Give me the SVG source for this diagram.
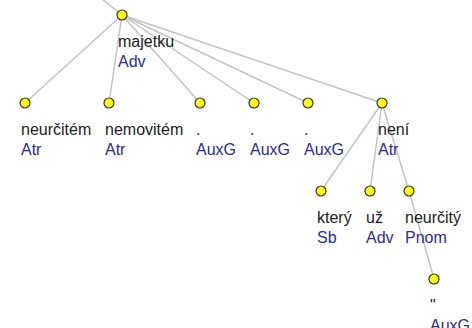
<svg xmlns="http://www.w3.org/2000/svg" width="472" height="328" viewBox="0 0 472 328">
<style>
.e{stroke:#c4c4c4;stroke-width:1.5;fill:none}
.n{fill:#ffff00;stroke:#333;stroke-width:1.2}
text{font-family:"Liberation Sans",Arial,sans-serif;font-size:16px}
.w{fill:#222}
.f{fill:#2a2aa0}
</style>
<rect width="472" height="328" fill="#fff"/>
<g id="edges">
<line class="e" x1="91" y1="-10" x2="122" y2="15"/>
<line class="e" x1="122" y1="15" x2="25" y2="103"/>
<line class="e" x1="122" y1="15" x2="109" y2="103"/>
<line class="e" x1="122" y1="15" x2="200" y2="103"/>
<line class="e" x1="122" y1="15" x2="254" y2="103"/>
<line class="e" x1="122" y1="15" x2="308" y2="103"/>
<line class="e" x1="122" y1="15" x2="382" y2="103"/>
<line class="e" x1="382" y1="103" x2="321" y2="191"/>
<line class="e" x1="382" y1="103" x2="370" y2="191"/>
<line class="e" x1="382" y1="103" x2="409" y2="191"/>
<line class="e" x1="409" y1="191" x2="434" y2="279"/>
</g>
<g id="n-majetku"><circle class="n" cx="122" cy="15" r="5"/><text class="w" x="118" y="47">majetku</text><text class="f" x="118" y="67">Adv</text></g>
<g id="n-neurcitem"><circle class="n" cx="25" cy="103" r="5"/><text class="w" x="21" y="135">neurčitém</text><text class="f" x="21" y="155">Atr</text></g>
<g id="n-nemovitem"><circle class="n" cx="109" cy="103" r="5"/><text class="w" x="105" y="135">nemovitém</text><text class="f" x="105" y="155">Atr</text></g>
<g id="n-dot1"><circle class="n" cx="200" cy="103" r="5"/><text class="w" x="196" y="135">.</text><text class="f" x="196" y="155">AuxG</text></g>
<g id="n-dot2"><circle class="n" cx="254" cy="103" r="5"/><text class="w" x="250" y="135">.</text><text class="f" x="250" y="155">AuxG</text></g>
<g id="n-dot3"><circle class="n" cx="308" cy="103" r="5"/><text class="w" x="304" y="135">.</text><text class="f" x="304" y="155">AuxG</text></g>
<g id="n-neni"><circle class="n" cx="382" cy="103" r="5"/><text class="w" x="378" y="135">není</text><text class="f" x="378" y="155">Atr</text></g>
<g id="n-ktery"><circle class="n" cx="321" cy="191" r="5"/><text class="w" x="317" y="223">který</text><text class="f" x="317" y="243">Sb</text></g>
<g id="n-uz"><circle class="n" cx="370" cy="191" r="5"/><text class="w" x="366" y="223">už</text><text class="f" x="366" y="243">Adv</text></g>
<g id="n-neurcity"><circle class="n" cx="409" cy="191" r="5"/><text class="w" x="405" y="223">neurčitý</text><text class="f" x="405" y="243">Pnom</text></g>
<g id="n-quote"><circle class="n" cx="434" cy="279" r="5"/><text class="w" x="430" y="311">"</text><text class="f" x="430" y="331">AuxG</text></g>
</svg>
